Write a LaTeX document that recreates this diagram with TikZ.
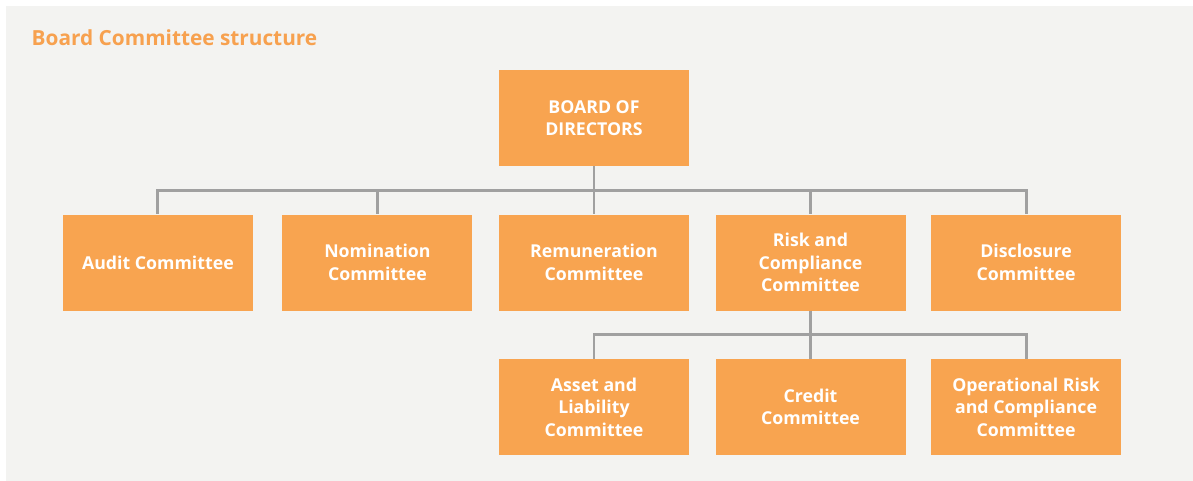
\documentclass[tikz,border=0pt]{standalone}
\usepackage{fontspec}
\setmainfont{Open Sans}
\usepackage{tikz}
\usetikzlibrary{positioning,calc}
\definecolor{tangerine}{HTML}{F8A450}
\definecolor{titleor}{HTML}{F7A14F}
\definecolor{panel}{HTML}{F3F3F1}
\definecolor{wire}{HTML}{A0A0A0}

\begin{document}
\begin{tikzpicture}[x=0.75pt,y=-0.75pt,node distance=36pt and 19.5pt,
   unit/.style={fill=tangerine,text=white,font=\fontsize{13.3}{16.9}\selectfont\bfseries,minimum width=142.5pt,minimum height=72pt,align=center,inner sep=2pt},
   conn/.style={draw=wire,line width=2.2pt}]
  \useasboundingbox (0,0) rectangle (1193,481);
  \fill[panel] (6,6) rectangle (1193,481);
  \node[anchor=west,text=titleor,font=\fontsize{15.6}{18}\selectfont\bfseries] (title) at (27,38) {Board Committee structure};
  % top
  \node[unit] (board) at (594,118) {BOARD OF\\DIRECTORS};
  % first row
  \node[unit,below=of board] (rem) {Remuneration\\Committee};
  \node[unit,left=of rem] (nom) {Nomination\\Committee};
  \node[unit,left=21.75pt of nom] (audit) {Audit Committee};
  \node[unit,right=of rem] (risk) {Risk and\\Compliance\\Committee};
  \node[unit,right=18.75pt of risk] (disc) {Disclosure\\Committee};
  % second row
  \node[unit,below=of rem] (alco) {Asset and\\Liability\\Committee};
  \node[unit,right=of alco] (credit) {Credit\\Committee};
  \node[unit,right=18.75pt of credit] (orc) {Operational Risk\\and Compliance\\Committee};
  % connectors
  \coordinate (bus1) at ($(board.south)!0.5!(rem.north)$);
  \coordinate (bus2) at ($(risk.south)!0.5!(credit.north)$);
  \foreach \n in {audit,nom,rem,risk,disc}
    \draw[conn] (board.south) |- (bus1 -| \n) -- (\n.north);
  \foreach \n in {alco,credit,orc}
    \draw[conn] (risk.south) |- (bus2 -| \n) -- (\n.north);
\end{tikzpicture}
\end{document}
